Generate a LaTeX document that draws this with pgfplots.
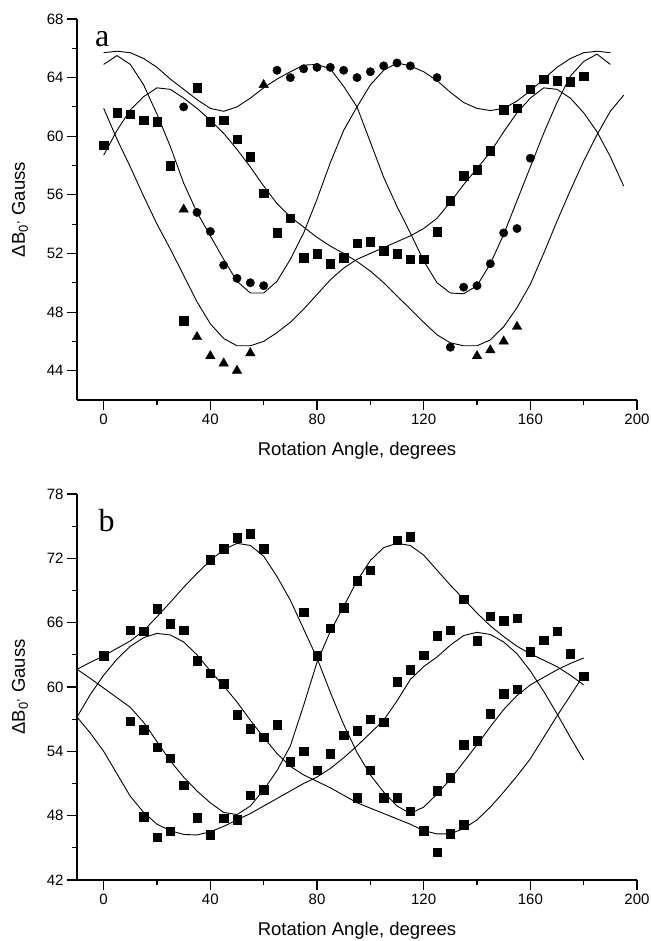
\documentclass[border=0pt]{standalone}
\usepackage{fontspec}
\setmainfont{Liberation Sans}
\newfontfamily\serifpanel{Liberation Serif}
\usepackage{pgfplots}
\pgfplotsset{compat=1.18}
\pgfplotsset{
  common/.style={
    scale only axis, width=560pt, anchor=south west,
    xmin=-10, xmax=200,
    axis lines*=left,
    axis line style={line width=1.5pt},
    tick align=outside, major tick length=10pt, minor tick length=5pt,
    every tick/.style={black, line width=1.1pt},
    minor tick num=1,
    xtick={0,40,...,200},
    /pgf/number format/assume math mode=true,
    xticklabel style={font=\fontsize{15}{18}\selectfont},
    yticklabel style={font=\fontsize{15}{18}\selectfont},
    xlabel={Rotation Angle, degrees},
    x label style={font=\fontsize{18.5}{22}\selectfont, at={(axis description cs:0.5,0)}, anchor=center, yshift=-51pt},
    clip=false,
  },
  fit/.style={black, line width=0.9pt, sharp plot, mark=none},
  sq/.style={only marks, mark=square*, mark size=4.3pt, black},
  ci/.style={only marks, mark=*, mark size=4.2pt, black},
  tr/.style={only marks, mark=triangle*, mark size=5.5pt, black},
}
\newcommand{\ylab}{\node[xshift=-57pt, rotate=90, anchor=center, font=\fontsize{18.5}{22}\selectfont] at (rel axis cs:0,0.5) {ΔB\textsubscript{0}\textsuperscript{,} Gauss};}
\begin{document}
\begin{tikzpicture}[x=1pt,y=1pt]
\useasboundingbox (0,0) rectangle (650,941);
% ---------------- panel a ----------------
\begin{axis}[common, at={(77pt,541pt)}, height=381pt,
  ymin=42, ymax=68, ytick={44,48,...,68}]
\addplot[fit] coordinates {(0,58.7)(5,60.4)(10,61.8)(15,62.7)(20,63.3)(25,63.2)(30,62.6)(35,61.9)(40,61.1)(45,60.2)(50,59.1)(55,57.9)(60,56.6)(65,55.4)(70,54.5)(75,53.8)(80,53.1)(85,52.5)(90,52.0)(95,51.45)(100,50.8)(105,50.0)(110,49.1)(115,48.2)(120,47.3)(125,46.45)(130,45.9)(135,45.7)(140,45.7)(145,46.1)(150,47.0)(155,48.3)(160,49.9)(165,52.0)(170,54.2)(175,56.3)(180,58.3)(185,60.1)(190,61.7)(195,62.8)};
\addplot[fit] coordinates {(0,61.9)(5,59.8)(10,57.9)(15,55.9)(20,54.0)(25,52.3)(30,50.5)(35,48.7)(40,47.2)(45,46.2)(50,45.7)(55,45.7)(60,46.0)(65,46.6)(70,47.3)(75,48.2)(80,49.2)(85,50.2)(90,51.0)(95,51.6)(100,52.0)(105,52.4)(110,52.8)(115,53.2)(120,53.7)(125,54.4)(130,55.5)(135,56.7)(140,57.8)(145,58.9)(150,60.3)(155,61.6)(160,62.6)(165,63.3)(170,63.2)(175,62.6)(180,61.6)(185,60.3)(190,58.6)(195,56.6)};
\addplot[fit] coordinates {(0,64.9)(5,65.5)(10,64.9)(15,63.5)(20,61.5)(25,59.3)(30,56.8)(35,54.8)(40,53.2)(45,51.6)(50,50.1)(55,49.3)(60,49.3)(65,50.1)(70,51.6)(75,53.4)(80,55.7)(85,58.2)(90,60.4)(95,62.0)(100,63.5)(105,64.5)(110,65.0)(115,64.8)(120,64.4)(125,63.8)(130,63.0)(135,62.3)(140,61.9)(145,61.75)(150,61.9)(155,62.4)(160,63.1)(165,63.9)(170,64.7)(175,65.3)(180,65.7)(185,65.8)(190,65.7)};
\addplot[fit] coordinates {(0,65.7)(5,65.8)(10,65.7)(15,65.3)(20,64.7)(25,63.9)(30,63.2)(35,62.5)(40,61.9)(45,61.7)(50,62.0)(55,62.6)(60,63.3)(65,63.9)(70,64.4)(75,64.85)(80,64.9)(85,64.6)(90,63.4)(95,62.0)(100,59.6)(105,57.2)(110,55.2)(115,53.4)(120,51.5)(125,50.0)(130,49.3)(135,49.25)(140,49.8)(145,51.3)(150,53.3)(155,55.6)(160,57.9)(165,60.2)(170,62.3)(175,64.1)(180,65.1)(185,65.6)(190,64.9)};
\addplot[sq] coordinates {(0,59.4)(5,61.6)(10,61.5)(15,61.1)(20,61.0)(25,58.0)(30,47.4)(35,63.3)(40,61.0)(45,61.1)(50,59.8)(55,58.6)(60,56.1)(65,53.4)(70,54.4)(75,51.7)(80,52.0)(85,51.3)(90,51.7)(95,52.7)(100,52.8)(105,52.2)(110,52.0)(115,51.6)(120,51.6)(125,53.5)(130,55.6)(135,57.3)(140,57.7)(145,59.0)(150,61.8)(155,61.9)(160,63.2)(165,63.9)(170,63.8)(175,63.7)(180,64.1)};
\addplot[ci] coordinates {(30,62.0)(35,54.8)(40,53.5)(45,51.2)(50,50.3)(55,50.0)(60,49.8)(65,64.5)(70,64.0)(75,64.6)(80,64.7)(85,64.7)(90,64.5)(95,64.0)(100,64.4)(105,64.8)(110,65.0)(115,64.8)(125,64.0)(130,45.6)(135,49.7)(140,49.8)(145,51.3)(150,53.4)(155,53.7)(160,58.5)};
\addplot[tr] coordinates {(30,55.0)(35,46.3)(40,45.0)(45,44.5)(50,44.0)(55,45.2)(60,63.5)(140,45.0)(145,45.4)(150,46.0)(155,47.0)};
\node[font=\serifpanel\fontsize{32}{32}\selectfont] at (rel axis cs:0.045,0.948) {a};
\ylab
\end{axis}
% ---------------- panel b ----------------
\begin{axis}[common, at={(77pt,61pt)}, height=386pt,
  ymin=42, ymax=78, ytick={42,48,...,78}]
\addplot[fit] coordinates {(-10,61.65)(-5,62.3)(0,62.9)(5,63.6)(10,64.3)(15,65.25)(20,66.55)(25,67.9)(30,69.3)(35,70.6)(40,71.8)(45,72.8)(50,73.4)(55,73.2)(60,72.2)(65,70.3)(70,68.1)(75,65.4)(80,62.7)(85,59.5)(90,56.5)(95,53.9)(100,51.8)(105,50.2)(110,48.9)(115,48.2)(120,48.8)(125,50.0)(130,51.4)(135,53.0)(140,54.6)(145,56.3)(150,57.9)(155,59.2)(160,60.2)(165,60.9)(170,61.6)(175,62.2)(180,62.7)};
\addplot[fit] coordinates {(-10,61.65)(-5,60.8)(0,59.9)(5,59.0)(10,58.1)(15,56.7)(20,54.9)(25,53.1)(30,51.6)(35,50.3)(40,49.2)(45,48.3)(50,48.1)(55,48.9)(60,50.4)(65,52.2)(70,54.5)(75,58.3)(80,62.3)(85,65.2)(90,67.5)(95,69.9)(100,71.8)(105,73.0)(110,73.4)(115,73.2)(120,72.3)(125,70.9)(130,69.5)(135,68.2)(140,66.9)(145,65.7)(150,64.7)(155,63.8)(160,63.1)(165,62.5)(170,61.9)(175,61.1)(180,60.2)};
\addplot[fit] coordinates {(-10,57.2)(-5,59.3)(0,61.1)(5,62.6)(10,63.8)(15,64.6)(20,65.0)(25,64.85)(30,64.2)(35,63.0)(40,61.5)(45,60.1)(50,58.6)(55,56.9)(60,55.3)(65,53.8)(70,52.6)(75,51.8)(80,51.2)(85,50.6)(90,49.9)(95,49.2)(100,48.7)(105,48.2)(110,47.7)(115,47.2)(120,46.6)(125,46.3)(130,46.3)(135,46.8)(140,47.6)(145,48.8)(150,50.2)(155,51.7)(160,53.3)(165,55.3)(170,57.3)(175,59.2)(180,61.1)};
\addplot[fit] coordinates {(-10,57.2)(-5,55.7)(0,54.0)(5,51.9)(10,49.8)(15,48.3)(20,47.2)(25,46.6)(30,46.25)(35,46.2)(40,46.5)(45,47.0)(50,47.6)(55,48.2)(60,48.9)(65,49.6)(70,50.3)(75,51.0)(80,51.6)(85,52.4)(90,53.4)(95,54.5)(100,55.7)(105,56.9)(110,58.7)(115,60.7)(120,61.9)(125,62.8)(130,63.9)(135,64.8)(140,65.1)(145,64.9)(150,64.2)(155,63.1)(160,61.5)(165,59.6)(170,57.5)(175,55.3)(180,53.2)};
\addplot[sq] coordinates {(0,62.9)(10,65.3)(10,56.8)(15,65.2)(15,56.0)(15,47.9)(20,67.3)(20,54.4)(20,46.0)(25,65.9)(25,53.35)(25,46.55)(30,65.3)(30,50.85)(35,62.45)(35,47.8)(40,71.9)(40,61.3)(40,46.2)(45,72.9)(45,60.3)(45,47.75)(50,73.9)(50,57.4)(50,47.65)(55,74.3)(55,56.1)(55,49.9)(60,72.9)(60,55.3)(60,50.4)(65,56.5)(70,53.05)(75,66.96)(75,54.0)(80,62.9)(80,52.25)(85,65.5)(85,53.8)(90,67.4)(90,55.5)(95,69.9)(95,55.9)(95,49.7)(100,70.9)(100,57.0)(100,52.25)(105,56.7)(105,49.7)(110,73.7)(110,60.5)(110,49.7)(115,74.0)(115,61.6)(115,48.4)(120,62.95)(120,46.6)(125,64.8)(125,50.35)(125,44.6)(130,65.3)(130,51.55)(130,46.3)(135,68.2)(135,54.6)(135,47.15)(140,64.3)(140,55.0)(145,66.6)(145,57.5)(150,66.2)(150,59.4)(155,66.4)(155,59.8)(160,63.3)(165,64.35)(170,65.2)(175,63.1)(180,61.0)};
\node[font=\serifpanel\fontsize{32}{32}\selectfont] at (rel axis cs:0.053,0.932) {b};
\ylab
\end{axis}
\end{tikzpicture}
\end{document}
